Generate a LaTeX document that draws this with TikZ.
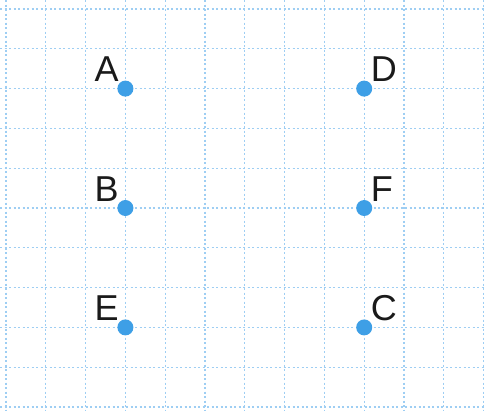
\documentclass[tikz,border=0pt]{standalone}
\usepackage{fontspec}
\setmainfont{Liberation Sans}
\usetikzlibrary{positioning}
\definecolor{gridblue}{HTML}{9ECEF3}
\definecolor{dotblue} {HTML}{3E9FE6}
\definecolor{ink}     {HTML}{1A1A1A}
\tikzset{
  gridline/.style ={draw=gridblue, line width=1.3pt, dash pattern=on 2pt off 2.5pt},
  pt/.style       ={circle, fill=dotblue, inner sep=0pt, minimum size=16pt},
  lbl/.style      ={font=\fontsize{36}{36}\selectfont, text=ink, inner sep=0pt},
}
\begin{document}
\begin{tikzpicture}[x=1pt,y=-1pt]
  \useasboundingbox[fill=white] (0,0) rectangle (486,410);
  % grid
  \foreach \k in {0,...,12}
    \draw[gridline] ({6+39.8*\k},0) -- ({6+39.8*\k},410);
  \foreach \k in {0,...,10}
    \draw[gridline] (0,{9+39.8*\k}) -- (486,{9+39.8*\k});

  % points
  \node[pt, label={[lbl,label distance=1pt]north west:A}] (A) at (125.4, 88.6) {};
  \node[pt, label={[lbl,label distance=1pt]north west:B}] (B) at (125.4,208.0) {};
  \node[pt, label={[lbl,label distance=1pt]north west:E}] (E) at (125.4,327.4) {};
  \node[pt, label={[lbl,label distance=1pt]north east:D}] (D) at (364.2, 88.6) {};
  \node[pt, label={[lbl,label distance=1pt]north east:F}] (F) at (364.2,208.0) {};
  \node[pt, label={[lbl,label distance=1pt]north east:C}] (C) at (364.2,327.4) {};
\end{tikzpicture}
\end{document}
